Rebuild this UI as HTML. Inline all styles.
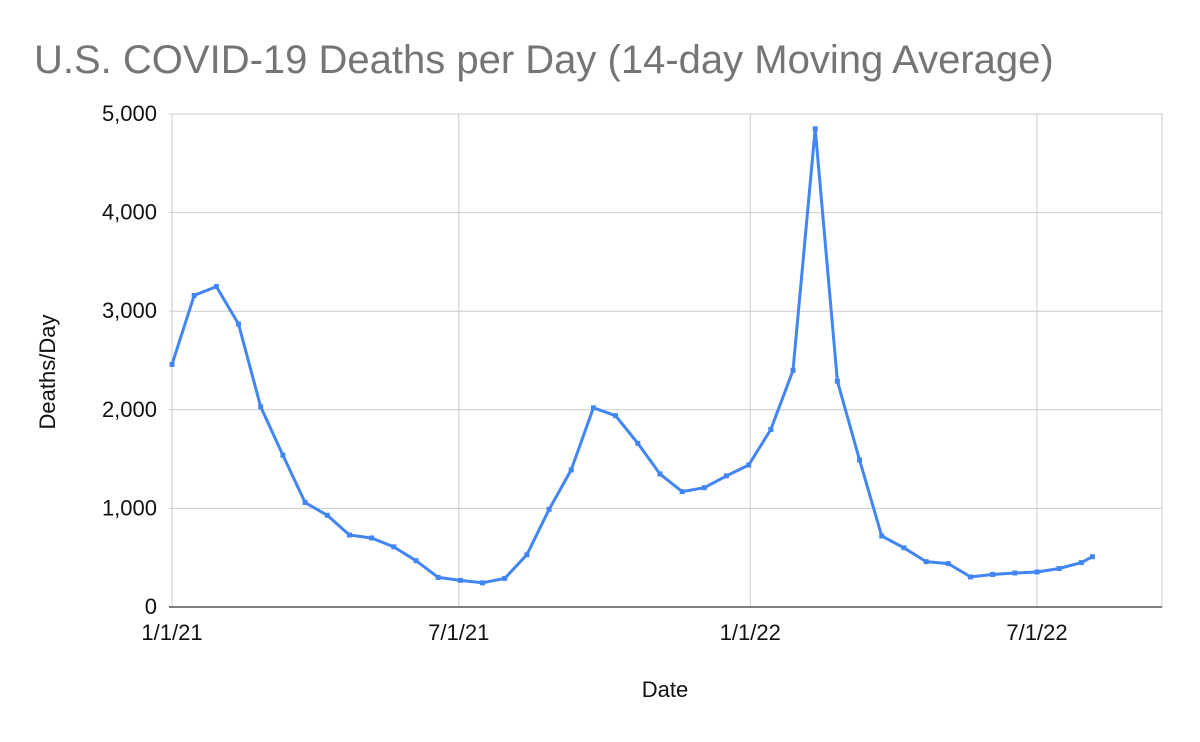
<!DOCTYPE html>
<html><head><meta charset="utf-8"><style>
body{margin:0;background:#fff;}
svg{display:block;font-family:"Liberation Sans",Arial,sans-serif;}
</style></head><body>
<svg id="chart" width="1200" height="742">
<text x="34" y="73" font-size="40" fill="#757575">U.S. COVID-19 Deaths per Day (14-day Moving Average)</text>
<g id="grid"></g>
<g id="axes"></g>
<g id="series"></g>
<text x="665" y="697" font-size="22" text-anchor="middle" fill="#111">Date</text>
<text transform="translate(55,372) rotate(-90)" font-size="22" text-anchor="middle" fill="#111">Deaths/Day</text>
</svg>
<script>
const dayOffsets = [0,14,28,42,56,70,84,98,112,126,140,154,168,182,196,210,224,238,252,266,280,294,308,322,336,350,364,378,392,406,420,434,448,462,476,490,504,518,532,546,560,574,581];
const deaths = [2460,3160,3250,2870,2030,1540,1060,930,730,700,610,470,300,270,245,290,530,990,1390,2020,1940,1660,1350,1170,1210,1330,1440,1800,2400,4850,2290,1490,720,600,460,440,305,330,345,355,390,450,510];
const yTicks = [0,1000,2000,3000,4000,5000];
const yTickLabels = ["0","1,000","2,000","3,000","4,000","5,000"];
const xTickDays = [0,181,365,546];
const xTickLabels = ["1/1/21","7/1/21","1/1/22","7/1/22"];

const NS="http://www.w3.org/2000/svg";
const X0=172,X1=1162,Y0=607,Y1=114;
const xs=d=>X0+d*(1037-172)/546;
const ys=v=>Y0-(v/5000)*(Y0-Y1);
function mk(tag,attrs,parent){const e=document.createElementNS(NS,tag);for(const k in attrs)e.setAttribute(k,attrs[k]);document.getElementById(parent).appendChild(e);return e;}

yTicks.forEach((t,i)=>{
  const y=ys(t);
  if(t>0){const g=mk('line',{x1:X0-3,x2:X1,y1:y,y2:y,stroke:'#cccccc','stroke-width':1},'grid');
  
  }
  const l=mk('text',{x:157,y:y+7,'font-size':22,'text-anchor':'end',fill:'#111'},'axes');
  l.textContent=yTickLabels[i];
  
  
});
xTickDays.forEach((d,i)=>{
  const x=xs(d);
  const g=mk('line',{x1:x,x2:x,y1:Y1,y2:Y0,stroke:'#cccccc','stroke-width':1},'grid');
  
  
  const l=mk('text',{x:x,y:640,'font-size':22,'text-anchor':'middle',fill:'#111'},'axes');
  l.textContent=xTickLabels[i];
  
  
});
const rg=mk('line',{x1:X1,x2:X1,y1:Y1,y2:Y0,stroke:'#cccccc'},'grid');


const ax=mk('line',{x1:X0-3,x2:X1,y1:Y0,y2:Y0,stroke:'#333','stroke-width':1.2},'axes');



const pts=dayOffsets.map((d,i)=>xs(d).toFixed(1)+','+ys(deaths[i]).toFixed(1)).join(' ');
const line=mk('polyline',{points:pts,fill:'none',stroke:'#4285f4','stroke-width':3,'stroke-linejoin':'round'},'series');


dayOffsets.forEach((d,i)=>{
  const p=mk('rect',{x:xs(d)-2.5,y:ys(deaths[i])-2.5,width:5,height:5,fill:'#4285f4'},'series');
  
  
});
</script>
</body></html>
